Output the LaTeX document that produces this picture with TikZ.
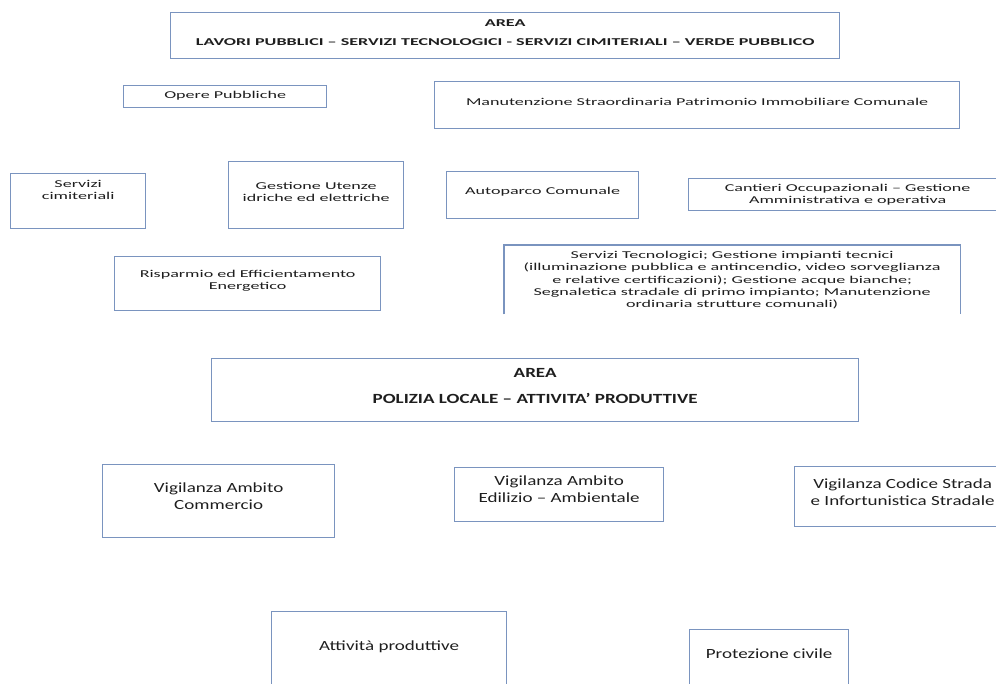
\documentclass[tikz,border=0pt]{standalone}
\usepackage{fontspec}
\newfontfamily\topfont[FakeStretch=1.72]{Carlito}
\newfontfamily\botfont[FakeStretch=1.36]{Carlito}
\usepackage{xcolor}
\usetikzlibrary{positioning}
\definecolor{boxline}{HTML}{7A94BF}
\definecolor{txt}{HTML}{1E1E1E}

\begin{document}
\begin{tikzpicture}[x=1pt, y=-1pt,
    box/.style={draw=boxline, line width=1.3pt, anchor=north west, inner sep=0pt},
    toptxt/.style={font=\topfont\fontsize{10.5}{12.3}\selectfont, text=txt, align=center, inner sep=0pt, anchor=north},
    bottxt/.style={font=\botfont\fontsize{14}{17}\selectfont, text=txt, align=center, inner sep=0pt, anchor=north}]
    \useasboundingbox (0,0) rectangle (996,684);

    % Area: lavori pubblici
    \node[box, minimum width=669, minimum height=46] (area1) at (170,12) {};
    \node[toptxt, yshift=-7pt] (area1t) at (area1.north) {\bfseries AREA\\[7pt]\bfseries LAVORI PUBBLICI – SERVIZI TECNOLOGICI - SERVIZI CIMITERIALI – VERDE PUBBLICO};

    \node[box, minimum width=203, minimum height=22] (opere) at (123,85) {};
    \node[toptxt, yshift=-6pt] (operet) at (opere.north) {Opere Pubbliche};

    \node[box, minimum width=525, minimum height=47] (manut) at (434,81) {};
    \node[toptxt, yshift=-17pt] (manutt) at (manut.north) {Manutenzione Straordinaria Patrimonio Immobiliare Comunale};

    \node[box, minimum width=135, minimum height=55] (cimit) at (10,173) {};
    \node[toptxt, yshift=-7pt] (cimitt) at (cimit.north) {Servizi\\cimiteriali};

    \node[box, minimum width=175, minimum height=67] (utenze) at (228,161) {};
    \node[toptxt, yshift=-21pt] (utenzet) at (utenze.north) {Gestione Utenze\\idriche ed elettriche};

    \node[box, minimum width=192, minimum height=47] (autop) at (446,171) {};
    \node[toptxt, yshift=-16pt] (autopt) at (autop.north) {Autoparco Comunale};

    \node[box, minimum width=318, minimum height=32] (cantieri) at (688,178) {};
    \node[toptxt, yshift=-6pt] (cantierit) at (cantieri.north) {Cantieri Occupazionali – Gestione\\Amministrativa e operativa};

    \node[box, minimum width=266, minimum height=54] (rispar) at (114,256) {};
    \node[toptxt, yshift=-14pt] (rispart) at (rispar.north) {Risparmio ed Efficientamento\\Energetico};

    % open at the bottom (cut off)
    \node[box, draw=none, minimum width=455, minimum height=68] (servtec) at (504,245) {};
    \draw[boxline, line width=1.3pt] (servtec.south west) |- (servtec.north east) -- (servtec.south east);
    \node[toptxt, yshift=-6pt] (servtect) at (servtec.north) {Servizi Tecnologici; Gestione impianti tecnici\\(illuminazione pubblica e antincendio, video sorveglianza\\e relative certificazioni); Gestione acque bianche;\\Segnaletica stradale di primo impianto; Manutenzione\\ordinaria strutture comunali)};

    % Area: polizia locale
    \node[box, minimum width=647, minimum height=63] (area2) at (211,358) {};
    \node[bottxt, yshift=-10pt] (area2t) at (area2.north) {\bfseries AREA\\[9pt]\bfseries POLIZIA LOCALE – ATTIVITA’ PRODUTTIVE};

    \node[box, minimum width=232, minimum height=73] (commer) at (102,464) {};
    \node[bottxt, yshift=-19pt] (commert) at (commer.north) {Vigilanza Ambito\\Commercio};

    \node[box, minimum width=209, minimum height=54] (edil) at (454,467) {};
    \node[bottxt, yshift=-9pt] (edilt) at (edil.north) {Vigilanza Ambito\\Edilizio – Ambientale};

    \node[box, minimum width=216, minimum height=60] (codice) at (794,466) {};
    \node[bottxt, yshift=-13pt] (codicet) at (codice.north) {Vigilanza Codice Strada\\e Infortunistica Stradale};

    \node[box, minimum width=235, minimum height=100] (attiv) at (271,611) {};
    \node[bottxt, yshift=-30pt] (attivt) at (attiv.north) {Attività produttive};

    \node[box, minimum width=159, minimum height=80] (protez) at (689,629) {};
    \node[bottxt, yshift=-20pt] (protezt) at (protez.north) {Protezione civile};
\end{tikzpicture}
\end{document}
